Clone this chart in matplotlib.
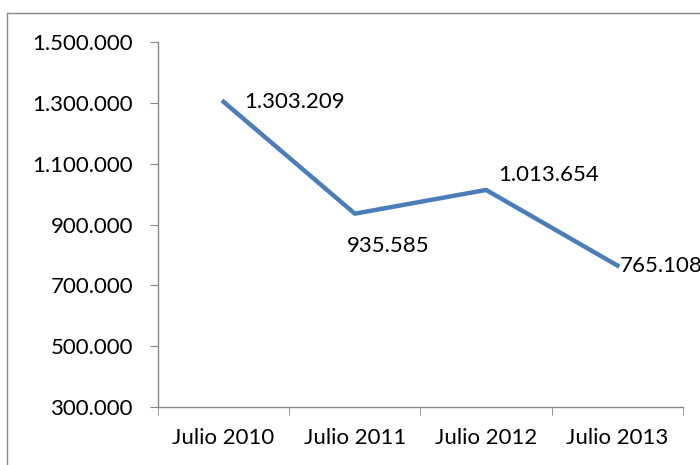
import matplotlib.pyplot as plt
from matplotlib.lines import Line2D
from matplotlib.ticker import FuncFormatter, FixedLocator

# data
periodos = ['Julio 2010', 'Julio 2011', 'Julio 2012', 'Julio 2013']
valores = [1303209, 935585, 1013654, 765108]
y_ticks = [300000, 500000, 700000, 900000, 1100000, 1300000, 1500000]

plt.rcParams['font.family'] = ['Lato', 'DejaVu Sans']


def fmt_miles(v, pos=None):
    return f'{int(v):,}'.replace(',', '.')


fig = plt.figure(figsize=(7, 4.65), dpi=100)
ax = fig.add_axes([0.2257, 0.1247, 0.75, 0.785])

x = list(range(len(periodos)))
ax.plot(x, valores, color='#4A7EBB', linewidth=3.2, solid_joinstyle='round')

ax.set_xlim(-0.5, len(periodos) - 0.5)
ax.set_ylim(300000, 1500000)
ax.set_yticks(y_ticks)
ax.yaxis.set_major_formatter(FuncFormatter(fmt_miles))
ax.set_xticks(x)
ax.set_xticklabels(periodos)
ax.xaxis.set_minor_locator(FixedLocator([i - 0.5 for i in range(len(periodos) + 1)]))
ax.tick_params(axis='x', which='major', length=0, pad=15, labelsize=16)
ax.tick_params(axis='x', which='minor', length=6, color='#888888')
ax.tick_params(axis='y', length=6, color='#888888', labelsize=16, pad=12)

for s in ['top', 'right']:
    ax.spines[s].set_visible(False)
for s in ['left', 'bottom']:
    ax.spines[s].set_color('#888888')
    ax.spines[s].set_linewidth(1)

# data labels (offsets in points)
offsets = [(15, 0), (-6, -23), (9, 11), (2, 0)]
for xi, v, (dx, dy) in zip(x, valores, offsets):
    ax.annotate(fmt_miles(v), (xi, v), xytext=(dx, dy), textcoords='offset points',
                ha='left', va='center', fontsize=16, annotation_clip=False)

# outer chart border
fig.add_artist(Line2D([0.01, 0.01], [0, 0.972], color='#888888', linewidth=1))
fig.add_artist(Line2D([0.01, 1.0], [0.972, 0.972], color='#888888', linewidth=1))

fig.savefig('out.png', dpi=100)
